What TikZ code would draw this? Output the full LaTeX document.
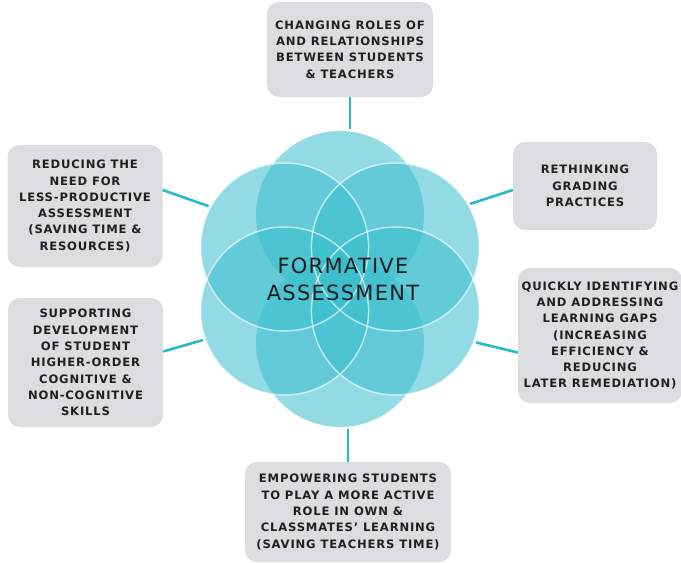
\documentclass[tikz,border=0pt]{standalone}
\usepackage{fontspec}
\setmainfont{DejaVu Sans}
\usepackage{tikz}

\definecolor{petalcol}{RGB}{58,190,205}
\definecolor{linkcol}{RGB}{38,187,203}
\definecolor{boxgray}{RGB}{220,221,222}
\definecolor{ink}{RGB}{35,31,32}

\tikzset{
	box/.style={rounded corners=12pt, fill=boxgray, align=center, inner sep=0pt, text=ink,
		font=\bfseries\fontsize{11.6}{16.3}\selectfont\addfontfeatures{LetterSpace=7}},
	link/.style={draw=linkcol, line width=2.6pt},
	petal/.style={fill=petalcol, fill opacity=0.55},
	rim/.style={draw=white, line width=1.5pt, draw opacity=0.6},
}

\begin{document}
\begin{tikzpicture}[x=1pt, y=-1pt]
	\useasboundingbox (0,0) rectangle (681,563);

	% flower
	\foreach \a in {90,30,330,270,210,150}
		\fill[petal] (340,279) ++(\a:64) circle[radius=84];
	\foreach \a in {30,330,210,150}
		\draw[rim] (340,279) ++(\a:64) circle[radius=84];

	\node[circle, minimum size=300pt, inner sep=0pt] (ring) at (340,279) {};
	\node[align=center, text=ink, font=\fontsize{21}{27}\selectfont\addfontfeatures{LetterSpace=6}] (fa) at (343,279) {FORMATIVE\\ASSESSMENT};

	\node[box, minimum width=166pt, minimum height=95pt] (roles) at (350,49.5)
		{CHANGING ROLES OF\\AND RELATIONSHIPS\\BETWEEN STUDENTS\\\& TEACHERS};
	\node[box, minimum width=155pt, minimum height=122pt] (lessprod) at (85,206)
		{REDUCING THE\\NEED FOR\\LESS-PRODUCTIVE\\ASSESSMENT\\(SAVING TIME \&\\RESOURCES)};
	\node[box, minimum width=155pt, minimum height=129pt] (hoskills) at (85.5,362.5)
		{SUPPORTING\\DEVELOPMENT\\OF STUDENT\\HIGHER-ORDER\\COGNITIVE \&\\NON-COGNITIVE\\SKILLS};
	\node[box, minimum width=144pt, minimum height=88pt] (grading) at (585,186)
		{RETHINKING\\GRADING\\PRACTICES};
	\node[box, minimum width=164pt, minimum height=135pt] (gaps) at (600,335.5)
		{QUICKLY IDENTIFYING\\AND ADDRESSING\\LEARNING GAPS\\(INCREASING\\EFFICIENCY \&\\REDUCING\\LATER REMEDIATION)};
	\node[box, minimum width=206pt, minimum height=100pt] (empower) at (348,512)
		{EMPOWERING STUDENTS\\TO PLAY A MORE ACTIVE\\ROLE IN OWN \&\\CLASSMATES' LEARNING\\(SAVING TEACHERS TIME)};

	% connectors
	\draw[link] (roles) -- (roles |- ring.north);
	\draw[link] ([yshift=16pt]lessprod.east) -- (ring.151);
	\draw[link] ([yshift=11pt]hoskills.east) -- (ring.204);
	\draw[link] ([yshift=-4pt]grading.west) -- (ring.30);
	\draw[link] ([yshift=-17pt]gaps.west) -- (ring.335);
	\draw[link] (empower) -- (empower |- ring.south);
\end{tikzpicture}
\end{document}
